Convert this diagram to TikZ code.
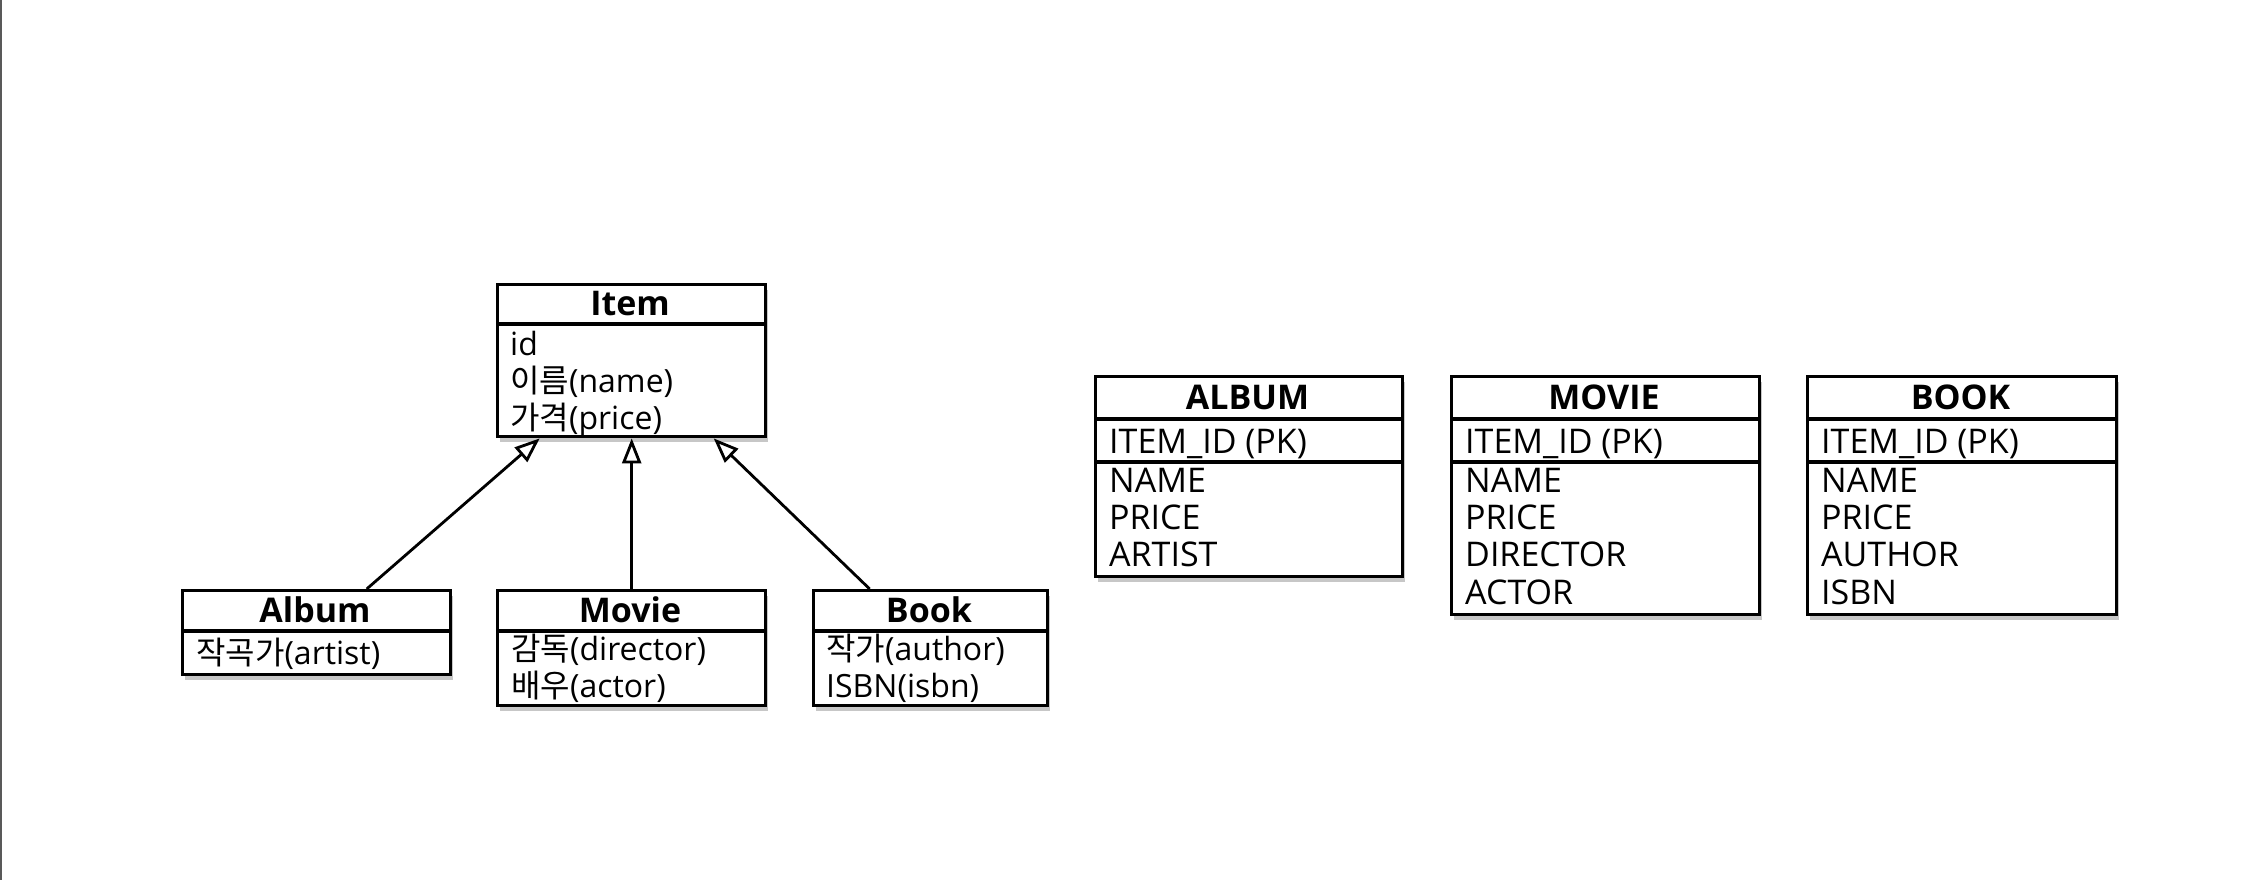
\documentclass[tikz,border=0pt]{standalone}
\usepackage{fontspec}
\setmainfont{Open Sans}
\newfontfamily\kr{Noto Sans CJK KR}
\usetikzlibrary{arrows.meta,shadows}
\tikzset{
  box/.style={draw, line width=3.4pt, fill=white, inner sep=0pt, anchor=north west,
    drop shadow={shadow xshift=2pt, shadow yshift=-5pt, opacity=0.22, fill=black}},
  ttl/.style={font=\fontsize{34}{40}\selectfont\bfseries, inner sep=0pt},
  fld/.style={font=\fontsize{32}{38}\selectfont, inner sep=0pt, anchor=west, text height=23pt, text depth=7pt},
  tfld/.style={fld, font=\fontsize{34}{40}\selectfont, text height=24pt, text depth=7pt},
  divl/.style={line width=3.4pt},
  inh/.style={line width=2.8pt, -{Triangle[open, length=25pt, width=19pt, fill=white]}},
}
\begin{document}
\begin{tikzpicture}[x=1pt,y=-1pt]
\useasboundingbox (0,0) rectangle (2260,880);
\fill[white] (0,0) rectangle (2260,880);
\draw[black!65, line width=2pt] (1,0) -- (1,880);

% ---------- class diagram ----------
\node[box, minimum width=268pt, minimum height=152pt] (item) at (496,283) {};
\draw[divl] (item.west |- 0,324) -- (item.east |- 0,324);
\node[ttl] (itemt) at (630,304) {Item};
\node[fld] (item1) at (510,347) {id};
\node[fld] (item2) at (510,384) {{\kr 이름}(name)};
\node[fld] (item3) at (510,421) {{\kr 가격}(price)};

\node[box, minimum width=268pt, minimum height=84pt] (album) at (181,589) {};
\draw[divl] (album.west |- 0,631) -- (album.east |- 0,631);
\node[ttl] (albumt) at (315,610) {Album};
\node[fld] (album1) at (196,656) {{\kr 작곡가}(artist)};

\node[box, minimum width=268pt, minimum height=115pt] (movie) at (496,589) {};
\draw[divl] (movie.west |- 0,631) -- (movie.east |- 0,631);
\node[ttl] (moviet) at (630,610) {Movie};
\node[fld] (movie1) at (511,652) {{\kr 감독}(director)};
\node[fld] (movie2) at (511,689) {{\kr 배우}(actor)};

\node[box, minimum width=234pt, minimum height=115pt] (book) at (812,589) {};
\draw[divl] (book.west |- 0,631) -- (book.east |- 0,631);
\node[ttl] (bookt) at (929,610) {Book};
\node[fld] (book1) at (826,652) {{\kr 작가}(author)};
\node[fld] (book2) at (826,689) {ISBN(isbn)};

\draw[inh] ([xshift=50pt]album.north) -- ([xshift=-92pt]item.south);
\draw[inh] (movie.north) -- (item.south);
\draw[inh] ([xshift=-61pt]book.north) -- ([xshift=82pt]item.south);

% ---------- tables ----------
\node[box, minimum width=307pt, minimum height=200pt] (talbum) at (1094,375) {};
\draw[divl] (talbum.west |- 0,419) -- (talbum.east |- 0,419);
\draw[divl] (talbum.west |- 0,462) -- (talbum.east |- 0,462);
\node[ttl] (talbumt) at (1247.5,397) {ALBUM};
\node[tfld] (talbum0) at (1109,445) {ITEM\_ID (PK)};
\node[tfld] (talbum1) at (1109,484) {NAME};
\node[tfld] (talbum2) at (1109,521) {PRICE};
\node[tfld] (talbum3) at (1109,558) {ARTIST};

\node[box, minimum width=308pt, minimum height=238pt] (tmovie) at (1450,375) {};
\draw[divl] (tmovie.west |- 0,419) -- (tmovie.east |- 0,419);
\draw[divl] (tmovie.west |- 0,462) -- (tmovie.east |- 0,462);
\node[ttl] (tmoviet) at (1604,397) {MOVIE};
\node[tfld] (tmovie0) at (1465,445) {ITEM\_ID (PK)};
\node[tfld] (tmovie1) at (1465,484) {NAME};
\node[tfld] (tmovie2) at (1465,521) {PRICE};
\node[tfld] (tmovie3) at (1465,558) {DIRECTOR};
\node[tfld] (tmovie4) at (1465,596) {ACTOR};

\node[box, minimum width=309pt, minimum height=238pt] (tbook) at (1806,375) {};
\draw[divl] (tbook.west |- 0,419) -- (tbook.east |- 0,419);
\draw[divl] (tbook.west |- 0,462) -- (tbook.east |- 0,462);
\node[ttl] (tbookt) at (1960.5,397) {BOOK};
\node[tfld] (tbook0) at (1821,445) {ITEM\_ID (PK)};
\node[tfld] (tbook1) at (1821,484) {NAME};
\node[tfld] (tbook2) at (1821,521) {PRICE};
\node[tfld] (tbook3) at (1821,558) {AUTHOR};
\node[tfld] (tbook4) at (1821,596) {ISBN};
\end{tikzpicture}
\end{document}
